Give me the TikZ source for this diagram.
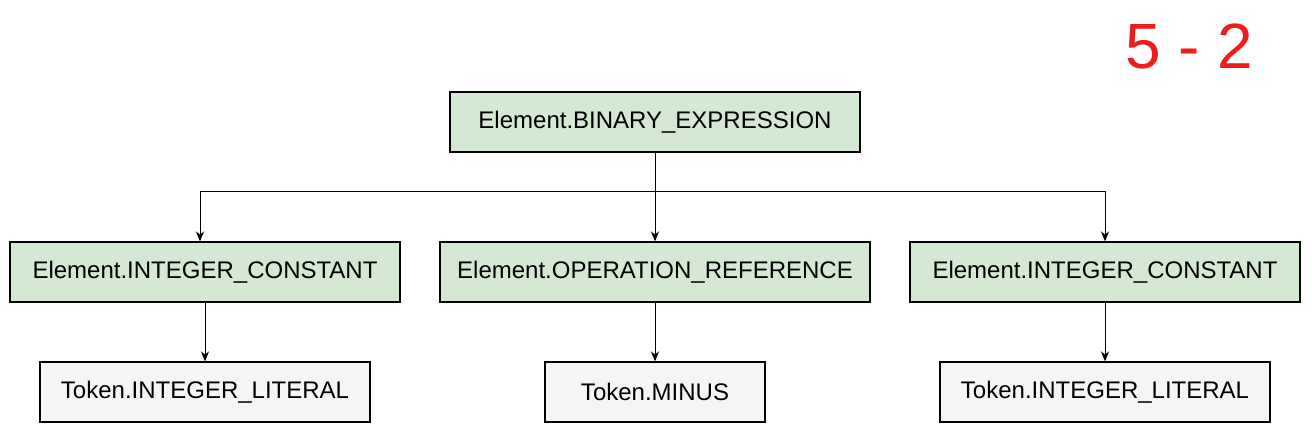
\documentclass[tikz,border=0pt]{standalone}
\usepackage{fontspec}
\setmainfont{Liberation Sans}
\usetikzlibrary{arrows.meta}
\definecolor{elemgreen}{HTML}{D5E8D4}
\definecolor{tokengray}{HTML}{F5F5F5}
\definecolor{exprred}{HTML}{EE1C1C}

\begin{document}
\begin{tikzpicture}[x=5pt,y=5pt,
  elem/.style={draw,line width=0.6pt,fill=elemgreen,minimum height=30pt,inner sep=0pt,font=\fontsize{12}{14}\selectfont},
  token/.style={elem,fill=tokengray},
  link/.style={line width=0.5pt,-{Stealth[length=5pt,width=4pt]}}]

\useasboundingbox (0,0) rectangle (131.2,43.3);

% the source expression
\node [text=exprred,font=\fontsize{32}{36}\selectfont] (source) at (118.95,38.7) {5 - 2};

% root of the tree
\node [elem,minimum width=205pt] (binexpr) at (65.5,31.1) {Element.BINARY\_EXPRESSION};

% the three elements
\node [elem,minimum width=195pt] (intleft)  at (20.5,16.1)  {Element.INTEGER\_CONSTANT};
\node [elem,minimum width=215pt] (opref)    at (65.5,16.1)  {Element.OPERATION\_REFERENCE};
\node [elem,minimum width=195pt] (intright) at (110.5,16.1) {Element.INTEGER\_CONSTANT};

% the tokens
\node [token,minimum width=165pt] (litleft)  at (20.5,4.1)  {Token.INTEGER\_LITERAL};
\node [token,minimum width=110pt] (minus)    at (65.5,4.1)  {Token.MINUS};
\node [token,minimum width=165pt] (litright) at (110.5,4.1) {Token.INTEGER\_LITERAL};

% fork under the root
\coordinate (fork) at (65.5,24.1);
\draw [line width=0.5pt] (binexpr.south) -- (fork);
\draw [link] (fork) -| ([xshift=-2.5pt]intleft.north);
\draw [link] (fork) -- (opref.north);
\draw [link] (fork) -| (intright.north);

% elements to tokens
\draw [link] (intleft.south)  -- (litleft.north);
\draw [link] (opref.south)    -- (minus.north);
\draw [link] (intright.south) -- (litright.north);

\end{tikzpicture}
\end{document}
